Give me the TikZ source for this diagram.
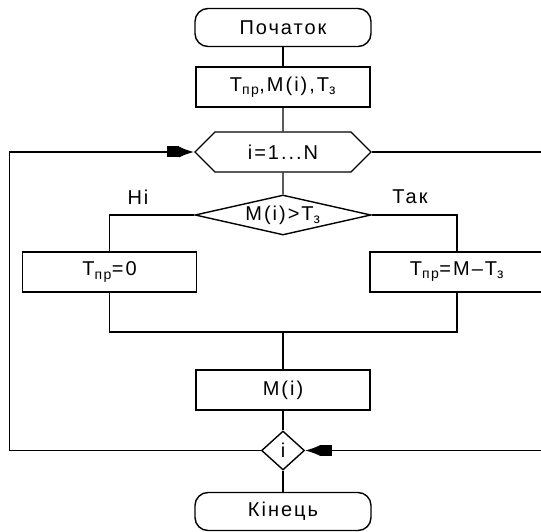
\documentclass[tikz,border=0pt]{standalone}
\usepackage{fontspec}
\setmainfont{Liberation Sans}[LetterSpace=10]
\usetikzlibrary{shapes.geometric,shapes.symbols,arrows.meta}

\begin{document}
\begin{tikzpicture}[x=1pt,y=-1pt,line width=1.4pt,
  font=\fontsize{20}{22}\selectfont,
  term/.style={draw,rectangle,rounded corners=13pt,minimum width=176pt,minimum height=38pt,inner sep=0pt},
  box/.style={draw,rectangle,minimum width=174pt,minimum height=40pt,inner sep=0pt},
  loopbox/.style={draw,signal,signal to=west and east,signal pointer angle=90,minimum width=176pt,minimum height=40pt,inner sep=0pt},
  cond/.style={draw,diamond,aspect=4.4,minimum width=176pt,minimum height=40pt,inner sep=0pt},
  tip/.style={-{Square[length=12pt,width=11pt]Latex[length=15pt,width=11pt]}}]

\clip (0,0) rectangle (541,532);

\node[term] (start) at (283,27.5) {Початок};
\node[box] (inp) at (283,87) {T\textsubscript{пр},M(i),T\textsubscript{з}};
\node[loopbox] (loop) at (283,152) {i=1...N};
\node[cond] (cmp) at (283,215) {M(i)>T\textsubscript{з}};
\node (nolbl) at (138,197) {Ні};
\node (yeslbl) at (410,197) {Так};
\node[box] (no) at (109.5,272) {T\textsubscript{пр}=0};
\node[box] (yes) at (457,272) {T\textsubscript{пр}=M–T\textsubscript{з}};
\node[box] (out) at (283,390) {M(i)};
\node[cond,aspect=1.1,minimum width=43pt,minimum height=39pt] (endloop) at (283,450.5) {i};
\node[term] (stop) at (283,511.5) {Кінець};

\coordinate (jn) at (283,332);
\coordinate (lt) at (9.5,152);
\coordinate (lb) at (9.5,450.5);
\coordinate (rt) at (548,152);
\coordinate (rb) at (548,450.5);

\draw (start) -- (inp);
\draw (inp) -- (loop);
\draw (loop) -- (cmp);
\draw (cmp.west) -| (no);
\draw (cmp.east) -| (yes);
\draw (no) |- (jn) -| (yes);
\draw (jn) -- (out);
\draw (out) -- (endloop);
\draw (endloop) -- (stop);

% loop back and exit
\draw[tip] (endloop.west) -- (lb) -- (lt) -- (loop.west);
\draw[tip] (loop.east) -- (rt) -- (rb) -- (endloop.east);

\end{tikzpicture}
\end{document}
